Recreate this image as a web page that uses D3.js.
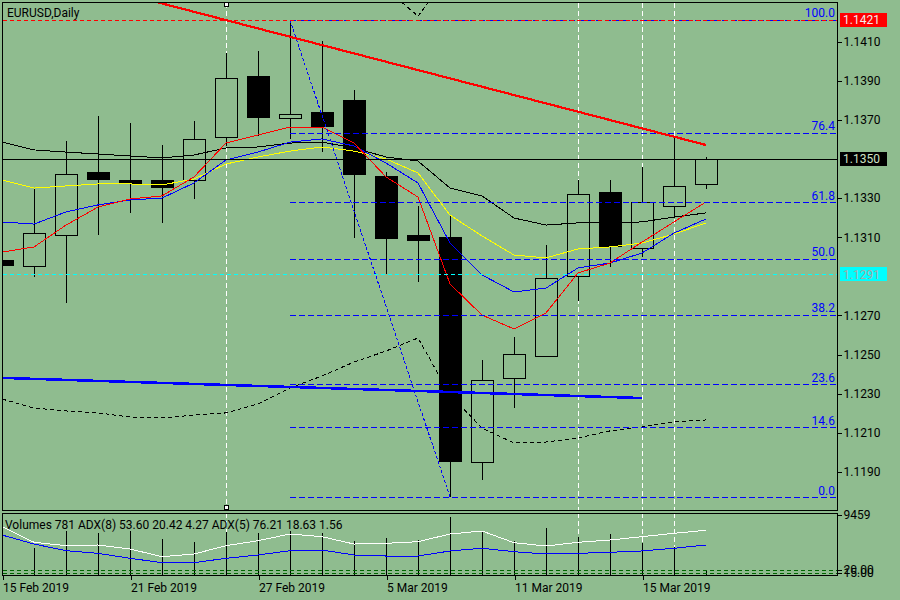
<!DOCTYPE html>
<html><head><meta charset="utf-8">
<script src="https://cdn.jsdelivr.net/npm/d3@7"></script>
<style>
html,body{margin:0;padding:0;background:#8fbc8f;}
svg{display:block;}
text{font-family:Roboto,"DejaVu Sans",sans-serif;font-size:12px;}
</style>
</head><body>
<svg id="c" width="900" height="600"></svg>
<script>
// ---------- data ----------
const dates = ["2019-02-15","2019-02-18","2019-02-19","2019-02-20","2019-02-21","2019-02-22","2019-02-25","2019-02-26","2019-02-27","2019-02-28","2019-03-01","2019-03-04","2019-03-05","2019-03-06","2019-03-07","2019-03-08","2019-03-11","2019-03-12","2019-03-13","2019-03-14","2019-03-15","2019-03-18","2019-03-19"];
const open  = [1.12983,1.12953,1.13111,1.13433,1.13392,1.13392,1.13392,1.13612,1.13924,1.13709,1.13740,1.13801,1.13413,1.13111,1.13101,1.11951,1.12381,1.12493,1.12902,1.13331,1.13045,1.13259,1.13372];
const high  = [1.13004,1.13351,1.13592,1.13719,1.13684,1.13571,1.13694,1.14041,1.14051,1.14210,1.14103,1.13852,1.13433,1.13259,1.13208,1.12472,1.12590,1.13060,1.13392,1.13392,1.13459,1.13607,1.13510];
const low   = [1.12932,1.12897,1.12764,1.13111,1.13224,1.13173,1.13295,1.13566,1.13617,1.13602,1.13535,1.13096,1.12912,1.12871,1.11772,1.11859,1.12227,1.12488,1.12774,1.12948,1.12999,1.13198,1.13346];
const close = [1.12958,1.13121,1.13423,1.13397,1.13377,1.13356,1.13602,1.13913,1.13714,1.13730,1.13668,1.13423,1.13096,1.13086,1.11956,1.12370,1.12503,1.12892,1.13321,1.13055,1.13280,1.13362,1.13500];

const maBlack  = [1.13586,1.13546,1.13535,1.13525,1.13515,1.13505,1.13520,1.13556,1.13561,1.13581,1.13586,1.13556,1.13510,1.13489,1.13351,1.13311,1.13198,1.13162,1.13173,1.13173,1.13178,1.13203,1.13224];
const maYellow = [1.13392,1.13351,1.13362,1.13372,1.13372,1.13367,1.13397,1.13474,1.13510,1.13540,1.13561,1.13540,1.13500,1.13428,1.13213,1.13106,1.13009,1.12994,1.13040,1.13050,1.13070,1.13116,1.13173];
const maBlue   = [1.13178,1.13167,1.13229,1.13265,1.13290,1.13300,1.13377,1.13495,1.13535,1.13586,1.13602,1.13566,1.13479,1.13377,1.13070,1.12907,1.12820,1.12840,1.12943,1.12968,1.13019,1.13121,1.13193];
const maRed    = [1.13024,1.13050,1.13162,1.13254,1.13295,1.13311,1.13408,1.13581,1.13622,1.13663,1.13663,1.13581,1.13408,1.13305,1.12861,1.12702,1.12631,1.12713,1.12917,1.12968,1.13075,1.13178,1.13280];
const bandLower = [1.12273,1.12227,1.12212,1.12202,1.12181,1.12176,1.12191,1.12202,1.12248,1.12329,1.12391,1.12462,1.12518,1.12585,1.12294,1.12125,1.12048,1.12053,1.12074,1.12110,1.12130,1.12156,1.12166];
const bandUpper = [null,null,null,null,null,null,null,null,null,null,null,null,1.14368,1.14230,1.14445,null,null,null,null,null,null,null,null];

const volumes  = [6500,4388,6978,6621,6978,5738,5319,6870,6621,6978,6715,5474,5939,5583,9103,7025,5474,7490,6001,6466,5071,4544,781];
const adx5Line = [82.2,56.2,50.5,51.7,45.0,32.2,36.7,50.5,58.8,70.0,65.5,53.3,54.5,57.2,70.0,75.0,55.5,50.0,56.2,60.0,65.5,71.2,76.2];
const adx8Line = [68.3,53.3,42.2,37.8,29.5,22.2,22.2,29.5,35.0,42.2,43.3,35.0,33.3,33.3,41.7,46.2,40.5,36.7,37.8,39.5,41.7,46.2,51.7];
const adxLevels = [10.8,5.8];
const volMax = 9459;
const adx8Values = ["53.60","20.42","4.27"];
const adx5Values = ["76.21","18.63","1.56"];
const lowerAxisLabels = ["20.00","15.00"];

const priceTicks = [1.1410,1.1390,1.1370,1.1330,1.1310,1.1270,1.1250,1.1230,1.1210,1.1190];
const dateTickIdx = [0,4,8,12,16,20];
const dateTickLabels = ["15 Feb 2019","21 Feb 2019","27 Feb 2019","5 Mar 2019","11 Mar 2019","15 Mar 2019"];

const fibLow = 1.11772, fibHigh = 1.14210, fibStartIdx = 9, fibEndIdx = 14;
const fibLevels = [0,14.6,23.6,38.2,50.0,61.8,76.4,100.0];
const bidPrice = 1.1350, alertHigh = 1.1421, alertMid = 1.1291;
const trendRed = [{i:4,p:1.14337},{i:22,p:1.13571}];
const trendBlue = [{i:0,p:1.12381},{i:20,p:1.12278}];
const vLinesIdx = [7,18,20,21];
const symbolTitle = "EURUSD,Daily";

// ---------- layout ----------
const BG = "#8fbc8f";
const svg = d3.select("#c");
svg.append("rect").attr("width",900).attr("height",600).attr("fill",BG);
const defs = svg.append("defs");
defs.append("clipPath").attr("id","cm").append("rect").attr("x",3).attr("y",3).attr("width",834).attr("height",508);
defs.append("clipPath").attr("id","cv").append("rect").attr("x",3).attr("y",514).attr("width",834).attr("height",62);

const x = d3.scaleLinear().domain([0,22]).range([2,706]);
const y = d3.scaleLinear().domain([1.1190,1.1410]).range([472,41.5]);
const vy = d3.scaleLinear().domain([0,volMax]).range([576,515]);
const ay = d3.scaleLinear().domain([0,100]).range([576,516]);
const px = v => Math.round(v)+0.5;

const gM = svg.append("g").attr("clip-path","url(#cm)").attr("shape-rendering","crispEdges");
const gV = svg.append("g").attr("clip-path","url(#cv)").attr("shape-rendering","crispEdges");

// vertical white dashed lines
[gM,gV].forEach((g,k)=>{
  g.selectAll("line.vl").data(vLinesIdx).join("line").attr("class","vl")
    .attr("x1",d=>px(x(d))).attr("x2",d=>px(x(d)))
    .attr("y1",k?513:3).attr("y2",k?576:511)
    .attr("stroke","#fff").attr("stroke-dasharray","5,3");
});

// candles
const candles = dates.map((d,i)=>({i,o:open[i],h:high[i],l:low[i],c:close[i]}));
gM.selectAll("line.wick").data(candles).join("line").attr("class","wick")
  .attr("x1",d=>px(x(d.i))).attr("x2",d=>px(x(d.i)))
  .attr("y1",d=>Math.round(y(d.h))).attr("y2",d=>Math.round(y(d.l)))
  .attr("stroke","#000");
gM.selectAll("rect.body").data(candles).join("rect").attr("class","body")
  .attr("x",d=>Math.round(x(d.i))-11+0.5).attr("width",22)
  .attr("y",d=>px(y(Math.max(d.o,d.c))))
  .attr("height",d=>Math.max(1,Math.round(y(Math.min(d.o,d.c)))-Math.round(y(Math.max(d.o,d.c)))))
  .attr("fill",d=>d.c<d.o?"#000":BG).attr("stroke","#000");

// indicator lines
const line = d3.line().defined(d=>d!=null).x((d,i)=>x(i)).y(d=>y(d));
const addLine=(g,data,color,dash,w)=>g.append("path").datum(data).attr("d",line)
  .attr("fill","none").attr("stroke",color).attr("stroke-width",w||1).attr("stroke-dasharray",dash||null);
addLine(gM,bandLower,"#000","4,3");
addLine(gM,bandUpper,"#000","4,3");
addLine(gM,maBlack,"#000");
addLine(gM,maYellow,"#ffff00");
addLine(gM,maBlue,"#0000ff");
addLine(gM,maRed,"#ff0000");

// fibonacci
const fibPrice = l => fibLow + (fibHigh-fibLow)*l/100;
gM.selectAll("line.fib").data(fibLevels).join("line").attr("class","fib")
  .attr("x1",x(fibStartIdx)).attr("x2",837)
  .attr("y1",d=>px(y(fibPrice(d)))).attr("y2",d=>px(y(fibPrice(d))))
  .attr("stroke","#0000ff").attr("stroke-dasharray","6,3");
gM.append("line").attr("x1",x(fibStartIdx)).attr("y1",y(fibHigh)).attr("x2",x(fibEndIdx)).attr("y2",y(fibLow))
  .attr("stroke","#0000ff").attr("stroke-dasharray","3,2");

// horizontal price lines
gM.append("line").attr("x1",3).attr("x2",837).attr("y1",px(y(alertMid))).attr("y2",px(y(alertMid)))
  .attr("stroke","#00ffff").attr("stroke-dasharray","4,3");
gM.append("line").attr("x1",3).attr("x2",837).attr("y1",px(y(alertHigh))).attr("y2",px(y(alertHigh)))
  .attr("stroke","#ff0000").attr("stroke-dasharray","4,3");
gM.append("line").attr("x1",3).attr("x2",837).attr("y1",px(y(bidPrice))).attr("y2",px(y(bidPrice)))
  .attr("stroke","#000");

// trend lines
gM.append("line").attr("x1",x(trendBlue[0].i)).attr("y1",y(trendBlue[0].p)).attr("x2",x(trendBlue[1].i)).attr("y2",y(trendBlue[1].p))
  .attr("stroke","#0000ff").attr("stroke-width",2.5);
gM.append("line").attr("x1",x(trendRed[0].i)).attr("y1",y(trendRed[0].p)).attr("x2",x(trendRed[1].i)).attr("y2",y(trendRed[1].p))
  .attr("stroke","#ff0000").attr("stroke-width",2.2);

// fib labels
svg.append("g").selectAll("text").data(fibLevels).join("text")
  .attr("x",835).attr("y",d=>y(fibPrice(d))-2.5).attr("text-anchor","end")
  .attr("fill","#0000ff").text(d=>d.toFixed(1));

// selection markers of vertical line
[5,508].forEach(yy=>svg.append("rect").attr("x",x(vLinesIdx[0])-2+0.5).attr("y",yy-2.5).attr("width",4).attr("height",4)
  .attr("fill","#fff").attr("stroke","#000").attr("shape-rendering","crispEdges"));

// volume panel
gV.selectAll("line.vol").data(volumes).join("line").attr("class","vol")
  .attr("x1",(d,i)=>px(x(i))).attr("x2",(d,i)=>px(x(i)))
  .attr("y1",576).attr("y2",d=>Math.round(vy(d))).attr("stroke","#000");
gV.selectAll("line.lvl").data(adxLevels).join("line").attr("class","lvl")
  .attr("x1",3).attr("x2",837).attr("y1",d=>px(ay(d))).attr("y2",d=>px(ay(d)))
  .attr("stroke","#006400").attr("stroke-dasharray","4,3");
const aline = d3.line().x((d,i)=>x(i)).y(d=>ay(d));
gV.append("path").datum(adx5Line).attr("d",aline).attr("fill","none").attr("stroke","#ffffff");
gV.append("path").datum(adx8Line).attr("d",aline).attr("fill","none").attr("stroke","#0000ff");

// frames
const fr = svg.append("g").attr("fill","none").attr("stroke","#000").attr("shape-rendering","crispEdges");
fr.append("rect").attr("x",2.5).attr("y",2.5).attr("width",835).attr("height",508);
fr.append("rect").attr("x",2.5).attr("y",513.5).attr("width",835).attr("height",62);

// axes
const styleAxis = g => {
  g.select(".domain").remove();
  g.selectAll("text").attr("fill","#000").style("font-size","12px").style("font-family","Roboto");
  g.selectAll("line").attr("shape-rendering","crispEdges");
};
const yAxis = d3.axisRight(y).tickValues(priceTicks).tickSize(4).tickSizeOuter(0).tickPadding(2).tickFormat(d3.format(".4f"));
svg.append("g").attr("transform","translate(837.5,0)").call(yAxis).call(styleAxis);

const xAxis = d3.axisBottom(x).tickValues(dateTickIdx).tickSize(4).tickSizeOuter(0).tickPadding(3)
  .tickFormat((d,k)=>dateTickLabels[k]);
const gx = svg.append("g").attr("transform","translate(0.5,576)").call(xAxis).call(styleAxis);
gx.selectAll("text").attr("text-anchor","start");

const vAxis = d3.axisRight(vy).tickValues([volMax]).tickSize(4).tickSizeOuter(0).tickPadding(2).tickFormat(d3.format("d"));
svg.append("g").attr("transform","translate(837.5,0)").call(vAxis).call(styleAxis);
const lvAxis = d3.axisRight(ay).tickValues(adxLevels).tickSize(4).tickSizeOuter(0).tickPadding(2).tickFormat((d,k)=>lowerAxisLabels[k]);
svg.append("g").attr("transform","translate(837.5,0)").call(lvAxis).call(styleAxis);

// price label boxes
const boxes = [{p:alertHigh,bg:"#ff0000",fg:"#f4ecec"},{p:bidPrice,bg:"#000",fg:"#cfe3c4"},{p:alertMid,bg:"#00ffff",fg:"#a8a8a8"}];
const gb = svg.append("g");
boxes.forEach(b=>{
  const yy = y(b.p);
  gb.append("rect").attr("x",840).attr("y",Math.round(yy)-7).attr("width",47).attr("height",14).attr("fill",b.bg);
  gb.append("text").attr("x",843).attr("y",yy).attr("dy","0.35em").attr("fill",b.fg).text(b.p.toFixed(4));
});

// titles
svg.append("text").attr("x",7).attr("y",17).attr("fill","#000").text(symbolTitle);
svg.append("text").attr("x",5).attr("y",529).attr("fill","#000")
  .text(`Volumes ${volumes[volumes.length-1]} ADX(8) ${adx8Values.join(" ")} ADX(5) ${adx5Values.join(" ")}`);
</script>
</body></html>
